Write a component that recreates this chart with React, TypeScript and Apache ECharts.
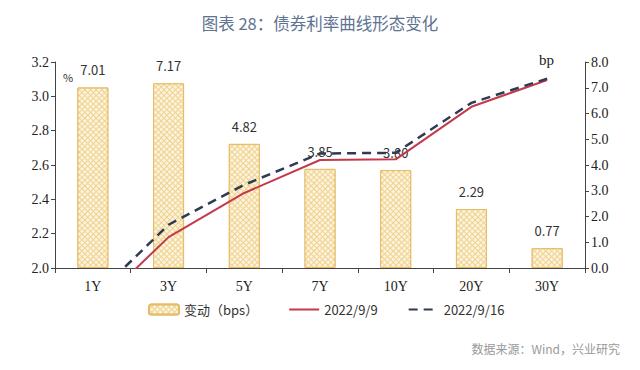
import React, { useEffect, useRef } from "react";
import * as echarts from "echarts";

const categories = ["1Y", "3Y", "5Y", "7Y", "10Y", "20Y", "30Y"];
const changeBps = [7.01, 7.17, 4.82, 3.85, 3.8, 2.29, 0.77];
const yield0909 = [1.755, 2.18, 2.437, 2.629, 2.633, 2.939, 3.095];
const yield0916 = [1.825, 2.252, 2.485, 2.667, 2.671, 2.962, 3.103];
const legendNames = ["变动（bps）", "2022/9/9", "2022/9/16"];

export default function App() {
  const ref = useRef<HTMLDivElement>(null);
  useEffect(() => {
    if (!ref.current) return;
    const chart = echarts.init(ref.current, null, { renderer: "svg" });
    const serif = "Liberation Serif";
    const sans = "Noto Sans CJK SC";
    chart.setOption({
      animation: false,
      backgroundColor: "#ffffff",
      grid: { left: 55, right: 55, top: 62, bottom: 102 },
      graphic: [
        {
          type: "text",
          left: "center",
          top: 15,
          style: { text: "图表 28：债券利率曲线形态变化", fontSize: 16.5, fontFamily: sans, fill: "#5e7391" },
        },
        {
          type: "text",
          left: 63,
          top: 71,
          style: { text: "%", fontSize: 11, fontFamily: sans, fill: "#333" },
        },
        {
          type: "text",
          left: 539,
          top: 52,
          style: { text: "bp", fontSize: 15, fontFamily: serif, fill: "#222" },
        },
        {
          type: "text",
          right: 20,
          top: 342,
          style: { text: "数据来源：Wind，兴业研究", fontSize: 12, fontFamily: sans, fill: "#999" },
        },
      ],
      legend: {
        left: 143,
        top: 298,
        itemWidth: 30,
        itemHeight: 10,
        itemGap: 30,
        textStyle: { fontSize: 13, fontFamily: sans, color: "#333" },
        data: [
          { name: legendNames[0] },
          { name: legendNames[1], itemStyle: { opacity: 0 } },
          { name: legendNames[2], itemStyle: { opacity: 0 } },
        ],
      },
      xAxis: {
        type: "category",
        data: categories,
        axisLine: { lineStyle: { color: "#444", width: 1 } },
        axisTick: { show: true, length: 5, lineStyle: { color: "#444" } },
        axisLabel: { fontFamily: serif, fontSize: 14, color: "#222", margin: 11 },
      },
      yAxis: [
        {
          type: "value",
          min: 2,
          max: 3.2,
          interval: 0.2,
          splitLine: { show: false },
          axisLine: { show: true, lineStyle: { color: "#444" } },
          axisTick: { show: true, length: 4, lineStyle: { color: "#444" } },
          axisLabel: {
            fontFamily: serif,
            fontSize: 14,
            color: "#222",
            margin: 6,
            formatter: (v: number) => v.toFixed(1),
          },
        },
        {
          type: "value",
          min: 0,
          max: 8,
          interval: 1,
          splitLine: { show: false },
          axisLine: { show: true, lineStyle: { color: "#444" } },
          axisTick: { show: true, length: 4, lineStyle: { color: "#444" } },
          axisLabel: {
            fontFamily: serif,
            fontSize: 14,
            color: "#222",
            margin: 6,
            formatter: (v: number) => v.toFixed(1),
          },
        },
      ],
      series: [
        {
          name: legendNames[0],
          type: "bar",
          yAxisIndex: 1,
          data: changeBps,
          barWidth: 31,
          itemStyle: {
            color: "#EFD290",
            borderColor: "#E6BC66",
            borderWidth: 1,
            decal: {
              symbol: "rect",
              symbolSize: 1,
              dashArrayX: [[3, 1]],
              dashArrayY: [3, 1],
              rotation: Math.PI / 4,
              color: "#FCF3DC",
            },
          },
          label: {
            show: true,
            position: "top",
            distance: 11,
            fontFamily: sans,
            fontSize: 13,
            color: "#333",
            formatter: (p: any) => p.value.toFixed(2),
          },
        },
        {
          name: legendNames[1],
          type: "line",
          yAxisIndex: 0,
          data: yield0909,
          symbol: "none",
          clip: true,
          lineStyle: { color: "#C23A4B", width: 2 },
          itemStyle: { color: "#C23A4B" },
          z: 3,
        },
        {
          name: legendNames[2],
          type: "line",
          yAxisIndex: 0,
          data: yield0916,
          symbol: "none",
          clip: true,
          lineStyle: { color: "#2E3B52", width: 2.5, type: [9, 6] },
          itemStyle: { color: "#2E3B52" },
          z: 4,
        },
      ],
    });
    return () => chart.dispose();
  }, []);
  return <div ref={ref} style={{ width: 640, height: 370, margin: -8 }} />;
}
